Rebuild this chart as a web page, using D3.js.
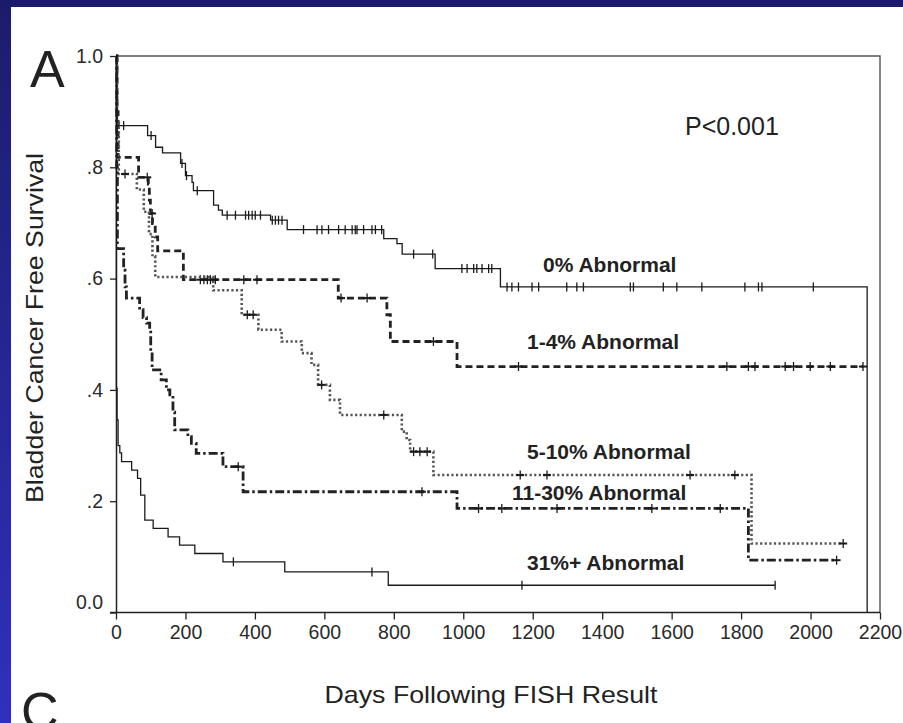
<!DOCTYPE html>
<html><head><meta charset="utf-8">
<script src="https://cdn.jsdelivr.net/npm/d3@7"></script>
<style>html,body{margin:0;padding:0;background:#fff;}svg{display:block;}</style>
</head><body>
<svg id="c" width="903" height="723"></svg>
<script>
// ---- data ----
const xTicks = [0,200,400,600,800,1000,1200,1400,1600,1800,2000,2200];
const yTicks = [0,0.2,0.4,0.6,0.8,1.0];
const yTickLabels = ["0.0",".2",".4",".6",".8","1.0"];
const groupNames = ["0% Abnormal","1-4% Abnormal","5-10% Abnormal","11-30% Abnormal","31%+ Abnormal"];

// 0% Abnormal
const t0 = [0,2,4,91,114,134,186,200,219,223,281,295,306,445,493,771,809,824,919,1107,2163];
const s0 = [1.0,0.93,0.875,0.857,0.836,0.826,0.807,0.785,0.773,0.758,0.732,0.723,0.714,0.705,0.688,0.672,0.663,0.644,0.618,0.585,0];
const c0 = [22,101,190,203,234,320,344,373,382,392,401,416,450,459,468,478,540,579,593,612,641,660,680,689,694,713,737,747,765,857,912,996,1011,1030,1039,1054,1073,1082,1126,1140,1159,1198,1217,1298,1327,1346,1481,1490,1576,1615,1687,1811,1850,1860,2008];
// 1-4% Abnormal
const t1 = [0,3,6,65,93,96,99,105,113,120,194,640,780,790,982,2151];
const s1 = [1.0,0.90,0.818,0.782,0.770,0.741,0.717,0.699,0.675,0.650,0.598,0.565,0.535,0.487,0.442,0.442];
const c1 = [90,104,243,253,263,272,286,368,406,648,723,914,1159,1759,1821,1840,1927,1951,1999,2057,2151];
// 5-10% Abnormal
const t2 = [0,3,8,60,80,95,105,113,280,362,410,477,535,563,582,616,645,823,837,847,914,1830,2094];
const s2 = [1.0,0.88,0.788,0.76,0.72,0.68,0.64,0.603,0.579,0.535,0.508,0.487,0.466,0.445,0.409,0.382,0.355,0.325,0.310,0.289,0.247,0.124,0.124];
const c2 = [26,378,395,592,771,857,875,896,1164,1241,1653,1782,2094];
// 11-30% Abnormal
const t3 = [0,2,4,22,26,30,68,78,88,97,100,104,130,145,155,164,169,207,217,231,308,366,982,1821,2075];
const s3 = [1.0,0.80,0.654,0.615,0.585,0.565,0.544,0.53,0.52,0.508,0.47,0.436,0.418,0.400,0.391,0.36,0.328,0.316,0.304,0.286,0.262,0.217,0.187,0.094,0.094];
const c3 = [352,881,1044,1111,1270,1543,1740,2075];
// 31%+ Abnormal
const t4 = [0,1,3,6,11,16,45,62,71,83,107,150,183,227,308,486,784,1898];
const s4 = [1.0,0.403,0.346,0.30,0.287,0.271,0.256,0.241,0.211,0.166,0.151,0.136,0.121,0.106,0.091,0.073,0.049,0.049];
const c4 = [338,737,1169,1898];

// ---- drawing ----
const svg = d3.select("#c");
const defs = svg.append("defs");
const grad = defs.append("linearGradient").attr("id","lg").attr("x1",0).attr("y1",0).attr("x2",0).attr("y2",1);
grad.append("stop").attr("offset","0%").attr("stop-color","#1c1c6c");
grad.append("stop").attr("offset","100%").attr("stop-color","#3030bc");
svg.append("rect").attr("width",903).attr("height",723).attr("fill","#fff");
svg.append("rect").attr("x",0).attr("y",0).attr("width",11).attr("height",723).attr("fill","url(#lg)");
svg.append("rect").attr("x",0).attr("y",0).attr("width",903).attr("height",7).attr("fill","#1b1b6c");

const x = d3.scaleLinear().domain([0,2200]).range([116,880]);
const y = d3.scaleLinear().domain([0,1]).range([612.5,56]);

// frame
svg.append("path").attr("d",`M${x(0)},${y(1)}H${x(2200)}V${y(0)}`).attr("fill","none").attr("stroke","#555").attr("stroke-width",1.4);

// axes
const ax = svg.append("g").attr("transform",`translate(0,${y(0)})`)
  .call(d3.axisBottom(x).tickValues(xTicks).tickSize(7).tickSizeOuter(0).tickPadding(6).tickFormat(d3.format("d")));
ax.select(".domain").attr("d",`M110,0H${x(2200)}`).attr("stroke","#222").attr("stroke-width",1.5);
ax.selectAll(".tick line").attr("stroke","#222").attr("stroke-width",1.3);
ax.selectAll(".tick text").attr("font-family","Liberation Sans, Arial, sans-serif").attr("font-size",19.5).attr("fill","#2a2a2a");

const ay = svg.append("g").attr("transform",`translate(${x(0)},0)`)
  .call(d3.axisLeft(y).tickValues(yTicks).tickSize(6).tickSizeOuter(0).tickPadding(7).tickFormat((d,i)=>yTickLabels[i]));
ay.select(".domain").attr("stroke","#222").attr("stroke-width",1.5);
ay.selectAll(".tick line").attr("stroke","#222").attr("stroke-width",1.3);
ay.selectAll(".tick text").attr("font-family","Liberation Sans, Arial, sans-serif").attr("font-size",19.5).attr("fill","#2a2a2a");
ay.selectAll(".tick").filter(d=>d===0).select("text").attr("dy","-0.22em");

// curves
const series = [
  {t:t0,s:s0,c:c0,w:1.3,dash:null,col:"#1a1a1a"},
  {t:t1,s:s1,c:c1,w:2.8,dash:"7,4",col:"#222"},
  {t:t2,s:s2,c:c2,w:2.6,dash:"2.2,2.4",col:"#555"},
  {t:t3,s:s3,c:c3,w:2.8,dash:"9,3,2.5,3",col:"#222"},
  {t:t4,s:s4,c:c4,w:1.3,dash:null,col:"#1a1a1a"}
];
const line = d3.line().x(d=>x(d[0])).y(d=>y(d[1])).curve(d3.curveStepAfter);
series.forEach(g=>{
  const pts = g.t.map((t,i)=>[t,g.s[i]]);
  const p = svg.append("path").attr("d",line(pts)).attr("fill","none")
    .attr("stroke",g.col).attr("stroke-width",g.w);
  if(g.dash) p.attr("stroke-dasharray",g.dash);
  const step = d=>{let v=g.s[0];for(let i=0;i<g.t.length;i++){if(g.t[i]<=d)v=g.s[i];}return v;};
  svg.append("g").selectAll("line").data(g.c).join("line")
    .attr("x1",d=>x(d)).attr("x2",d=>x(d))
    .attr("y1",d=>y(step(d))-4.5).attr("y2",d=>y(step(d))+4.5)
    .attr("stroke","#1a1a1a").attr("stroke-width",1.3);
  if(g.w>2){
    svg.append("g").selectAll("line").data(g.c).join("line")
      .attr("x1",d=>x(d)-4).attr("x2",d=>x(d)+4)
      .attr("y1",d=>y(step(d))).attr("y2",d=>y(step(d)))
      .attr("stroke","#1a1a1a").attr("stroke-width",2);
  }
});

// labels
const F = "Liberation Sans, Arial, sans-serif";
const lbl = [[543,272],[527,349],[527,459],[512,500],[527,570]];
groupNames.forEach((n,i)=>{
  svg.append("text").attr("x",lbl[i][0]).attr("y",lbl[i][1]).text(n)
    .attr("font-family",F).attr("font-weight","bold").attr("font-size",21).attr("fill","#222");
});
svg.append("text").attr("x",685).attr("y",135).text("P<0.001").attr("font-family",F).attr("font-size",25).attr("fill","#222");
svg.append("text").attr("x",30).attr("y",87).text("A").attr("font-family",F).attr("font-size",52).attr("fill","#222");
svg.append("text").attr("x",21).attr("y",729).text("C").attr("font-family",F).attr("font-size",52).attr("fill","#222");
svg.append("text").attr("transform","translate(43,328) rotate(-90)").attr("text-anchor","middle")
  .text("Bladder Cancer Free Survival").attr("font-family",F).attr("font-size",24)
  .attr("textLength",350).attr("lengthAdjust","spacingAndGlyphs").attr("fill","#222");
svg.append("text").attr("x",491).attr("y",703).attr("text-anchor","middle")
  .text("Days Following FISH Result").attr("font-family",F).attr("font-size",24)
  .attr("textLength",333).attr("lengthAdjust","spacingAndGlyphs").attr("fill","#222");
</script>
</body></html>
